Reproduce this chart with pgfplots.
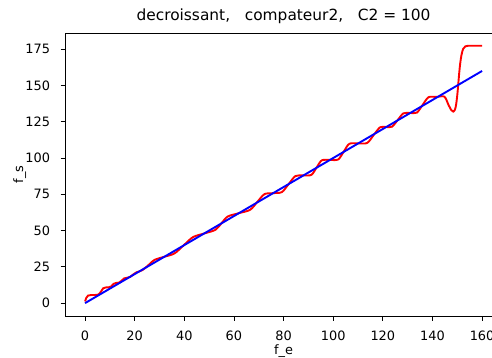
\documentclass[border=0pt]{standalone}
\usepackage{fontspec}
\setmainfont{DejaVu Sans}
\usepackage{pgfplots}
\pgfplotsset{compat=1.18}
\begin{document}
\begin{tikzpicture}
\path[use as bounding box] (-65.2bp,-42bp) rectangle (426.8bp,316bp);
\begin{axis}[
  at={(0,0)}, anchor=south west,
  width=426.8bp, height=283bp, scale only axis,
  xmin=-8, xmax=164, ymin=-8.87, ymax=186.17,
  axis x line*=box, axis y line*=left,
  axis line style={-, black, line width=0.8bp},
  tick pos=left, tick align=outside,
  major tick length=4.5bp,
  every tick/.style={black, line width=0.8bp},
  xtick={0,20,...,160}, ytick={0,25,...,175},
  /pgf/number format/assume math mode=true,
  ticklabel style={font=\fontsize{12.9bp}{15bp}\selectfont},
  xticklabel style={anchor=base, yshift=-19.7bp, inner sep=0pt},
  yticklabel style={anchor=east, xshift=-10.5bp, inner sep=0pt},
  title={decroissant,\ \ \ compateur2,\ \ \ C2 = 100},
  title style={at={(axis description cs:0.5116,1)}, anchor=base, yshift=7bp, inner sep=0pt, font=\fontsize{15.4bp}{18bp}\selectfont},
  xlabel={f\_e},
  xlabel style={at={(axis description cs:0.5116,0)}, anchor=base, yshift=-38.8bp, inner sep=0pt, font=\fontsize{12.9bp}{15bp}\selectfont},
  ylabel={f\_s},
  ylabel style={at={(axis description cs:-0.0986,0.5)}, anchor=base, inner sep=0pt, font=\fontsize{12.9bp}{15bp}\selectfont},
]
\addplot[red, line width=1.9bp, smooth, tension=0.5] coordinates {
(0,1.2) (0.5,3.6) (1.2,5.2) (2.5,5.6) (4,5.6) (5.2,5.8) (6.3,7.6) (7.3,10.2)
(8.3,10.8) (9.5,10.9) (10.6,11.6) (11.5,13.3) (12.5,13.9) (13.8,14.2) (14.8,15.6)
(15.8,17.1) (17,17.5) (18.2,18.1) (19.5,19.9) (20.8,21.3) (22,21.9) (23.2,22.9)
(24.5,24.6) (25.8,26.6)
(28,29.8) (32,32) (36,34.2) (39.75,39.85)
(43.5,45.5) (48,48) (52.5,50.5) (55,55.1)
(57.5,59.7) (62,62) (66.5,64.3) (69.4,69.7)
(72.3,75.1) (75.8,75.8) (79.3,76.5) (82.05,82.05)
(84.8,87.6) (88,88) (91.2,88.4) (93.3,93.4)
(95.4,98.4) (98.7,98.7) (102,99.0) (104.25,104.4)
(106.5,109.8) (110.1,110.1) (113.7,110.4) (116.3,115.8)
(118.9,121.2) (121.3,121.4) (123.7,121.6) (126,126.2)
(128.3,130.8) (131,131.05) (133.7,131.3) (136.05,136.6)
(138.4,141.9) (141.6,142.1) (144.8,142.3)
(146.5,136.5) (147.6,133) (148.4,132) (149.1,133.5) (149.6,137.5) (150.1,145)
(150.6,155) (151.1,164) (151.7,171) (152.4,175.3) (153.3,177) (154.5,177.4)
(156,177.4) (160,177.4)
};
\addplot[blue, line width=1.9bp] coordinates {(0,0) (160,160)};
\end{axis}
\end{tikzpicture}
\end{document}
